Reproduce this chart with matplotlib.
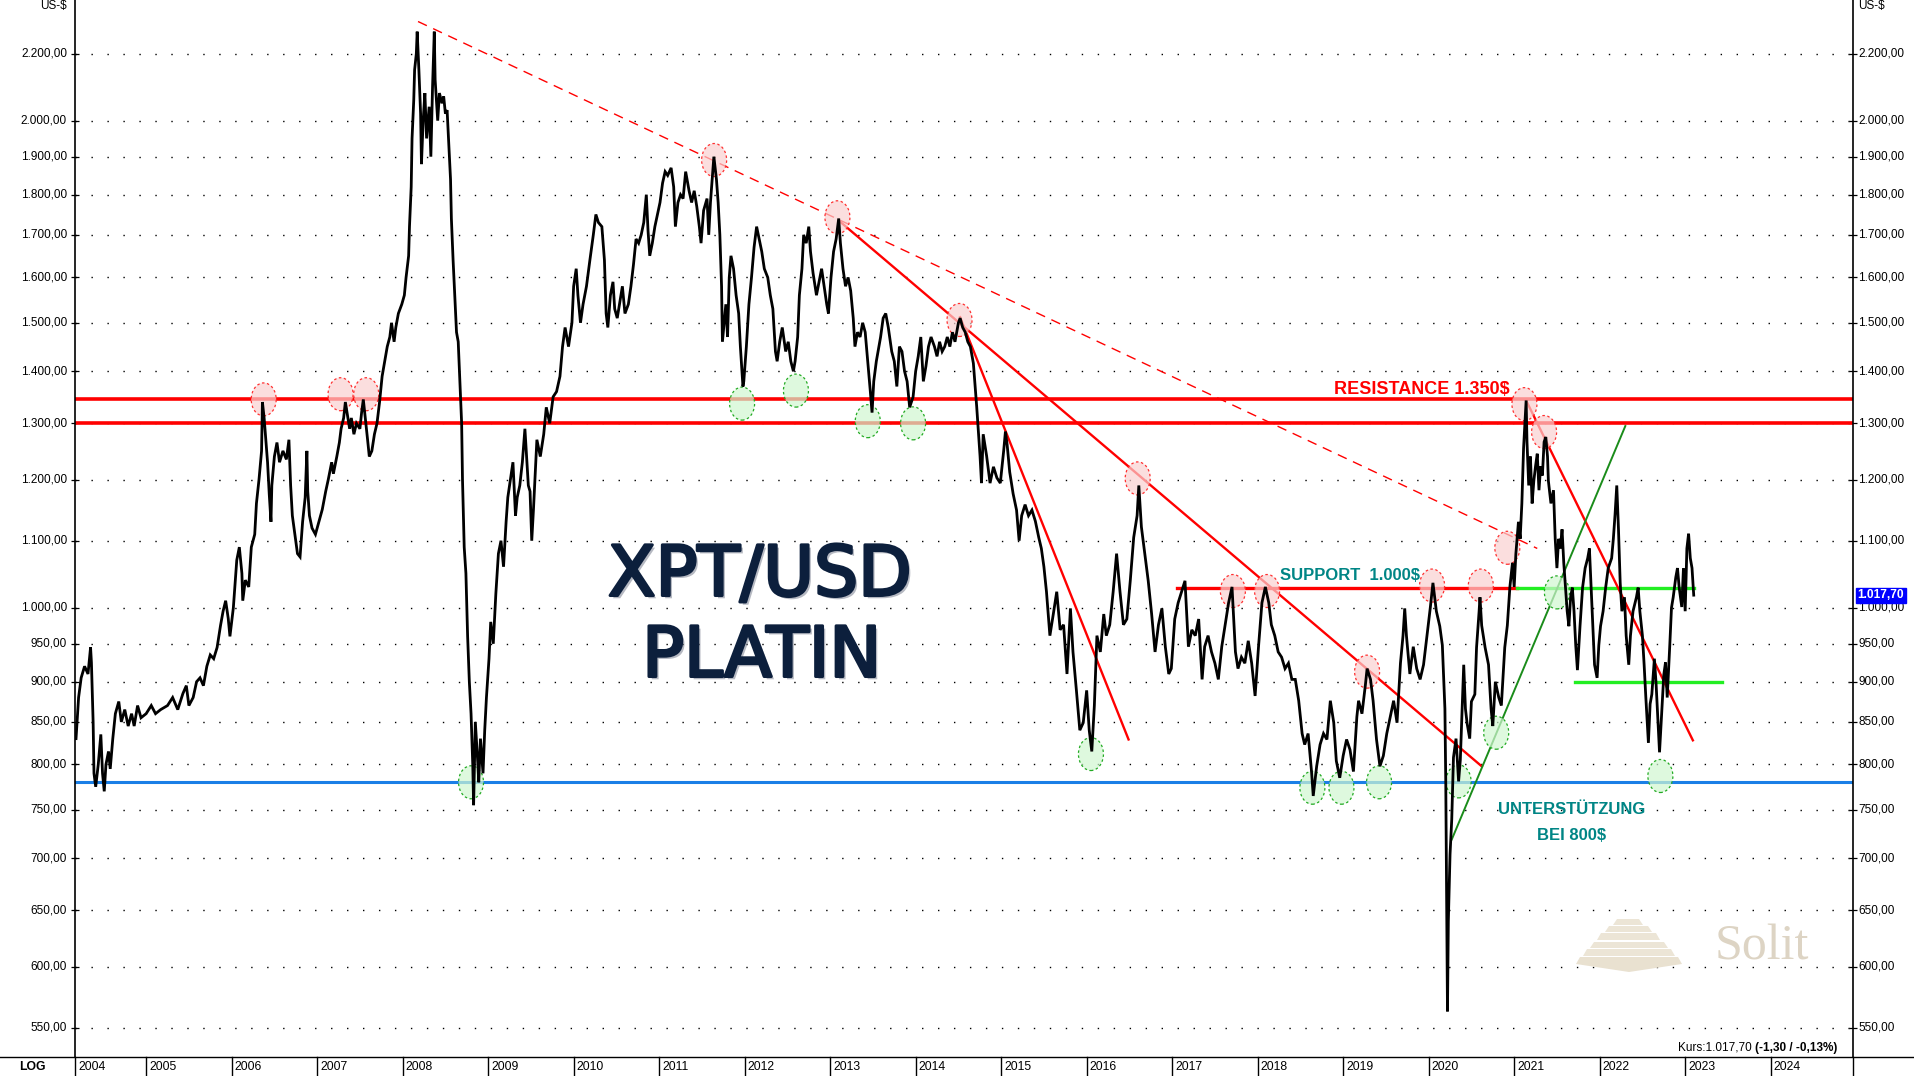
import matplotlib
matplotlib.use("Agg")
import matplotlib.pyplot as plt
import matplotlib.transforms as mtransforms
import matplotlib.patheffects as pe
from matplotlib.patches import Ellipse, Polygon
from matplotlib.lines import Line2D
from matplotlib.ticker import FixedLocator, NullLocator, NullFormatter

plt.rcParams['font.family'] = ['Liberation Sans', 'DejaVu Sans']

# ---------------- data (decimal year, US$ per ounce) ----------------
years_2004_2007 = [
    2004.18, 2004.21, 2004.24, 2004.28, 2004.32, 2004.35, 2004.36, 2004.38, 2004.39, 2004.41,
    2004.44, 2004.47, 2004.49, 2004.51, 2004.53, 2004.56, 2004.58, 2004.61, 2004.64, 2004.68,
    2004.71, 2004.75, 2004.79, 2004.83, 2004.86, 2004.90, 2004.94,
    2005.00, 2005.06, 2005.11, 2005.17, 2005.25, 2005.31, 2005.37, 2005.43, 2005.47, 2005.50,
    2005.55, 2005.59, 2005.63, 2005.67, 2005.71, 2005.75, 2005.79, 2005.83, 2005.87, 2005.90,
    2005.93, 2005.96, 2005.98,
    2006.02, 2006.06, 2006.09, 2006.12, 2006.13, 2006.16, 2006.20, 2006.23, 2006.27, 2006.29,
    2006.32, 2006.35, 2006.36, 2006.38, 2006.40, 2006.42, 2006.44, 2006.46, 2006.47, 2006.50,
    2006.53, 2006.56, 2006.60, 2006.64, 2006.67, 2006.69, 2006.71, 2006.74, 2006.77, 2006.80,
    2006.83, 2006.86, 2006.88, 2006.89, 2006.91, 2006.94, 2006.98,
    2007.02, 2007.06, 2007.10, 2007.13, 2007.17, 2007.19, 2007.23, 2007.26, 2007.28, 2007.31,
    2007.33, 2007.35, 2007.38, 2007.40, 2007.43, 2007.46, 2007.50, 2007.52, 2007.54, 2007.57,
    2007.59, 2007.61, 2007.64, 2007.67, 2007.70, 2007.73, 2007.76, 2007.79, 2007.82, 2007.85,
    2007.87, 2007.90, 2007.92, 2007.95, 2007.99]
prices_2004_2007 = [
    830, 880, 905, 920, 910, 945, 925, 850, 790, 775,
    800, 835, 790, 770, 800, 815, 795, 830, 860, 875,
    850, 865, 845, 860, 845, 870, 855,
    860, 870, 860, 865, 870, 880, 865, 885, 895, 870,
    880, 900, 905, 895, 920, 935, 930, 945, 975, 995,
    1010, 985, 960,
    1000, 1070, 1090, 1050, 1010, 1040, 1030, 1090, 1110, 1160,
    1200, 1250, 1340, 1310, 1270, 1230, 1175, 1130, 1190, 1240,
    1265, 1230, 1250, 1235, 1270, 1190, 1140, 1110, 1080, 1075,
    1130, 1170, 1250, 1180, 1140, 1120, 1110,
    1130, 1150, 1180, 1200, 1230, 1210, 1240, 1265, 1290, 1310,
    1340, 1320, 1290, 1310, 1280, 1300, 1290, 1320, 1345, 1300,
    1270, 1240, 1250, 1280, 1300, 1340, 1390, 1420, 1450, 1470,
    1500, 1460, 1490, 1520, 1540]

years_2008_2009 = [
    2008.02, 2008.04, 2008.07, 2008.08, 2008.10, 2008.11, 2008.13, 2008.14, 2008.16, 2008.17,
    2008.19, 2008.21, 2008.22, 2008.24, 2008.26, 2008.28, 2008.31, 2008.33, 2008.35, 2008.37,
    2008.38, 2008.41, 2008.43, 2008.46, 2008.48, 2008.50, 2008.52, 2008.54, 2008.56, 2008.57,
    2008.59, 2008.61, 2008.63, 2008.65, 2008.67, 2008.69, 2008.70, 2008.72, 2008.74, 2008.76,
    2008.78, 2008.80, 2008.82, 2008.83, 2008.85, 2008.88, 2008.89, 2008.91, 2008.94, 2008.96,
    2008.98,
    2009.01, 2009.03, 2009.06, 2009.09, 2009.12, 2009.15, 2009.18, 2009.21, 2009.23, 2009.26,
    2009.29, 2009.32, 2009.34, 2009.37, 2009.40, 2009.43, 2009.45, 2009.47, 2009.49, 2009.51,
    2009.53, 2009.57, 2009.61, 2009.65, 2009.68, 2009.72, 2009.76, 2009.80, 2009.84, 2009.87,
    2009.90, 2009.94, 2009.98]
prices_2008_2009 = [
    1560, 1600, 1650, 1720, 1820, 1950, 2060, 2150, 2200, 2270,
    2150, 2020, 1880, 2000, 2080, 1950, 2040, 1900, 2100, 2270,
    2120, 2000, 2080, 2050, 2070, 2020, 2030, 1930, 1840, 1740,
    1640, 1560, 1480, 1460, 1380, 1300, 1200, 1090, 1050, 960,
    900, 860, 800, 755, 850, 800, 780, 830, 790, 840,
    880,
    930, 980, 950, 1020, 1080, 1100, 1060, 1130, 1170, 1200,
    1230, 1140, 1170, 1190, 1230, 1290, 1240, 1190, 1180, 1100,
    1150, 1270, 1240, 1280, 1330, 1300, 1350, 1360, 1390, 1450,
    1490, 1450, 1500]

years_2010_2014 = [
    2010.00, 2010.03, 2010.05, 2010.08, 2010.11, 2010.15, 2010.19, 2010.23, 2010.26, 2010.29,
    2010.33, 2010.36, 2010.38, 2010.40, 2010.43, 2010.46, 2010.48, 2010.51, 2010.54, 2010.57,
    2010.60, 2010.64, 2010.67, 2010.70, 2010.73, 2010.76, 2010.79, 2010.82, 2010.85, 2010.87,
    2010.89, 2010.92, 2010.95, 2010.98,
    2011.01, 2011.04, 2011.07, 2011.10, 2011.14, 2011.17, 2011.19, 2011.22, 2011.25, 2011.28,
    2011.31, 2011.35, 2011.38, 2011.41, 2011.44, 2011.47, 2011.49, 2011.52, 2011.56, 2011.58,
    2011.60, 2011.63, 2011.64, 2011.67, 2011.69, 2011.71, 2011.73, 2011.74, 2011.76, 2011.78,
    2011.80, 2011.82, 2011.84, 2011.87, 2011.90, 2011.93, 2011.95, 2011.98, 2011.99,
    2012.02, 2012.05, 2012.08, 2012.11, 2012.14, 2012.17, 2012.20, 2012.23, 2012.27, 2012.30,
    2012.33, 2012.36, 2012.38, 2012.41, 2012.44, 2012.48, 2012.51, 2012.54, 2012.57, 2012.59,
    2012.62, 2012.64, 2012.67, 2012.69, 2012.72, 2012.75, 2012.77, 2012.80, 2012.84, 2012.87,
    2012.90, 2012.93, 2012.96, 2012.98,
    2013.01, 2013.04, 2013.07, 2013.10, 2013.12, 2013.15, 2013.18, 2013.21, 2013.24, 2013.27,
    2013.29, 2013.32, 2013.35, 2013.38, 2013.41, 2013.44, 2013.47, 2013.49, 2013.51, 2013.54,
    2013.56, 2013.59, 2013.62, 2013.65, 2013.68, 2013.72, 2013.75, 2013.78, 2013.81, 2013.84,
    2013.87, 2013.90, 2013.93, 2013.97,
    2014.00, 2014.03, 2014.06, 2014.09, 2014.12, 2014.15, 2014.18, 2014.22, 2014.25, 2014.28,
    2014.31, 2014.34, 2014.37, 2014.40, 2014.43, 2014.46, 2014.50, 2014.52, 2014.55, 2014.58,
    2014.61, 2014.64, 2014.675, 2014.714, 2014.753, 2014.77, 2014.79, 2014.83, 2014.87, 2014.91,
    2014.95, 2014.99]
prices_2010_2014 = [
    1580, 1620, 1560, 1500, 1540, 1580, 1640, 1700, 1750, 1730,
    1720, 1640, 1520, 1490, 1560, 1590, 1530, 1510, 1545, 1580,
    1520, 1540, 1580, 1630, 1690, 1680, 1700, 1730, 1800, 1710,
    1650, 1680, 1720, 1750,
    1780, 1830, 1860, 1850, 1870, 1820, 1720, 1780, 1800, 1790,
    1860, 1810, 1780, 1810, 1770, 1720, 1680, 1760, 1790, 1700,
    1780, 1870, 1900, 1840, 1780, 1700, 1580, 1460, 1500, 1540,
    1470, 1600, 1650, 1620, 1560, 1520, 1450, 1370, 1380,
    1450, 1540, 1600, 1670, 1720, 1690, 1660, 1620, 1600, 1560,
    1530, 1440, 1420, 1460, 1490, 1440, 1460, 1420, 1400, 1420,
    1470, 1560, 1620, 1700, 1680, 1720, 1660, 1610, 1560, 1590,
    1620, 1580, 1540, 1520,
    1600, 1660, 1690, 1740, 1680, 1620, 1580, 1600, 1570, 1510,
    1450, 1480, 1470, 1500, 1480, 1420, 1360, 1320, 1380, 1420,
    1440, 1470, 1510, 1520, 1490, 1440, 1420, 1370, 1450, 1440,
    1400, 1380, 1330, 1350,
    1400, 1430, 1470, 1380, 1410, 1450, 1470, 1450, 1430, 1460,
    1440, 1450, 1470, 1450, 1480, 1460, 1500, 1510, 1490, 1480,
    1460, 1450, 1416, 1331, 1241, 1194, 1280, 1241, 1194, 1222,
    1203, 1194]

years_2015_2019 = [
    2015.03, 2015.05, 2015.07, 2015.10, 2015.14, 2015.18, 2015.21, 2015.24, 2015.28, 2015.32,
    2015.36, 2015.40, 2015.44, 2015.47, 2015.50, 2015.53, 2015.57, 2015.61, 2015.65, 2015.69,
    2015.73, 2015.77, 2015.81, 2015.84, 2015.88, 2015.92, 2015.96,
    2016.00, 2016.03, 2016.06, 2016.09, 2016.12, 2016.16, 2016.20, 2016.23, 2016.27, 2016.31,
    2016.35, 2016.39, 2016.43, 2016.47, 2016.51, 2016.55, 2016.59, 2016.61, 2016.64, 2016.68,
    2016.72, 2016.76, 2016.80, 2016.84, 2016.88, 2016.92, 2016.96, 2016.99,
    2017.03, 2017.07, 2017.11, 2017.15, 2017.19, 2017.23, 2017.27, 2017.31, 2017.35, 2017.38,
    2017.42, 2017.46, 2017.50, 2017.54, 2017.58, 2017.62, 2017.66, 2017.70, 2017.74, 2017.77,
    2017.81, 2017.85, 2017.89, 2017.93, 2017.97,
    2018.01, 2018.05, 2018.09, 2018.13, 2018.16, 2018.20, 2018.24, 2018.28, 2018.32, 2018.36,
    2018.40, 2018.44, 2018.48, 2018.52, 2018.55, 2018.59, 2018.63, 2018.65, 2018.69, 2018.73,
    2018.77, 2018.81, 2018.85, 2018.89, 2018.92, 2018.96,
    2019.00, 2019.04, 2019.08, 2019.12, 2019.16, 2019.18, 2019.22, 2019.26, 2019.28, 2019.32,
    2019.35, 2019.39, 2019.43, 2019.47, 2019.51, 2019.55, 2019.59, 2019.63, 2019.67, 2019.70,
    2019.72, 2019.74, 2019.78, 2019.82, 2019.86, 2019.90, 2019.94, 2019.98]
prices_2015_2019 = [
    1251, 1285, 1261, 1213, 1176, 1149, 1100, 1140, 1158, 1140,
    1149, 1131, 1105, 1088, 1060, 1023, 961, 991, 1023, 969,
    976, 910, 999, 939, 889, 840, 849,
    889, 840, 815, 870, 961, 939, 991, 961, 976, 1023,
    1080, 1023, 976, 984, 1039, 1105, 1140, 1190, 1122, 1080,
    1039, 991, 939, 976, 999, 946, 910, 917,
    984, 1007, 1023, 1039, 946, 969, 961, 984, 903, 946,
    961, 939, 924, 903, 946, 976, 1007, 1030, 939, 917,
    932, 924, 954, 924, 882,
    946, 1007, 1030, 1007, 976, 961, 939, 932, 917, 924,
    903, 903, 876, 836, 823, 836, 792, 765, 798, 823,
    836, 829, 876, 849, 804, 785,
    810, 829, 817, 792, 856, 876, 860, 896, 917, 903,
    876, 829, 798, 810, 836, 856, 876, 849, 924, 961,
    999, 961, 910, 946, 917, 903, 922, 961]

years_2020_2023 = [
    2020.02, 2020.05, 2020.09, 2020.13, 2020.16, 2020.19, 2020.20, 2020.22, 2020.23, 2020.25,
    2020.27, 2020.29, 2020.32, 2020.35, 2020.37, 2020.41, 2020.43, 2020.45, 2020.48, 2020.50,
    2020.54, 2020.56, 2020.59, 2020.60, 2020.62, 2020.66, 2020.70, 2020.73, 2020.75, 2020.78,
    2020.82, 2020.85, 2020.89, 2020.92, 2020.95, 2020.98,
    2021.00, 2021.02, 2021.05, 2021.07, 2021.09, 2021.11, 2021.13, 2021.14, 2021.15, 2021.17,
    2021.19, 2021.21, 2021.23, 2021.25, 2021.27, 2021.29, 2021.31, 2021.33, 2021.35, 2021.37,
    2021.39, 2021.40, 2021.43, 2021.46, 2021.48, 2021.50, 2021.52, 2021.54, 2021.56, 2021.58,
    2021.60, 2021.62, 2021.64, 2021.66, 2021.68, 2021.70, 2021.72, 2021.74, 2021.77, 2021.80,
    2021.83, 2021.86, 2021.88, 2021.90, 2021.92, 2021.94, 2021.97, 2021.99,
    2022.01, 2022.04, 2022.07, 2022.10, 2022.14, 2022.16, 2022.18, 2022.20, 2022.22, 2022.24,
    2022.26, 2022.29, 2022.31, 2022.34, 2022.36, 2022.39, 2022.43, 2022.45, 2022.47, 2022.50,
    2022.52, 2022.54, 2022.57, 2022.59, 2022.61, 2022.64, 2022.66, 2022.68, 2022.70, 2022.72,
    2022.75, 2022.77, 2022.79, 2022.82, 2022.84, 2022.86, 2022.89, 2022.91, 2022.93, 2022.96,
    2022.98, 2023.00, 2023.02, 2023.04, 2023.06, 2023.08, 2023.10]
prices_2020_2023 = [
    1001, 1036, 995, 974, 948, 866, 780, 563, 640, 704,
    740, 808, 830, 781, 805, 922, 866, 848, 830, 875,
    884, 945, 995, 1015, 975, 945, 922, 866, 845, 900,
    880, 870, 945, 975, 1030, 1066,
    1030, 1080, 1130, 1103, 1160, 1255, 1311, 1343, 1266, 1190,
    1240, 1160, 1198, 1223, 1245, 1182, 1223, 1207, 1266, 1275,
    1240, 1198, 1160, 1182, 1103, 1058, 1103, 1088, 1118, 1066,
    1029, 995, 974, 1015, 1029, 995, 948, 915, 974, 1029,
    1058, 1073, 1088, 1029, 974, 922, 905, 948,
    974, 995, 1029, 1058, 1073, 1103, 1142, 1190, 1118, 1036,
    995, 1015, 961, 922, 961, 995, 1015, 1029, 995, 961,
    922, 880, 825, 872, 884, 930, 897, 855, 814, 850,
    909, 925, 880, 948, 1000, 1015, 1044, 1058, 1029, 1001,
    1058, 995, 1088, 1111, 1073, 1058, 1018]

# horizontal levels
resistance_levels = [1345, 1300]
support_level_blue = 780
support_1000 = 1029
support_900 = 900

# trend lines: (year0, price0, year1, price1)
dashed_trend = (2008.18, 2303, 2021.27, 1088)
red_trends = [(2013.10, 1735, 2020.62, 798),
              (2014.52, 1512, 2016.49, 829),
              (2021.14, 1343, 2023.09, 828)]
green_trend = (2020.27, 719, 2022.30, 1295)

# marked highs / lows
red_marks_x = [2006.375, 2007.274, 2007.574, 2011.643, 2013.085, 2014.513, 2016.597, 2017.71,
               2018.11, 2019.28, 2020.04, 2020.61, 2020.92, 2021.12, 2021.35]
red_marks_y = [1345, 1355, 1355, 1891, 1743, 1506, 1202, 1024, 1024, 913, 1032, 1032, 1089,
               1336, 1284]
green_marks_x = [2008.80, 2011.97, 2012.60, 2013.44, 2013.97, 2016.05, 2018.64, 2018.98,
                 2019.42, 2020.35, 2020.79, 2021.50, 2022.71]
green_marks_y = [780, 1337, 1362, 1304, 1300, 812, 774, 774, 780, 781, 837, 1022, 787]

ytick_values = [550, 600, 650, 700, 750, 800, 850, 900, 950, 1000, 1100, 1200, 1300, 1400,
                1500, 1600, 1700, 1800, 1900, 2000, 2200]
year_labels = list(range(2005, 2025))
last_price = 1017.70

# ---------------- figure ----------------
W, H = 1914, 1076
fig = plt.figure(figsize=(W / 100, H / 100), dpi=100)
fig.patch.set_facecolor('white')
ax = fig.add_axes([75 / W, 19 / H, 1777.5 / W, 1057 / H])
ax.set_yscale('log')
x0, x1 = 2004.168, 2024.957
ax.set_xlim(x0, x1)
ax.set_ylim(527.6, 2374.6)
ax.set_xticks([])
ax.yaxis.set_major_locator(FixedLocator(ytick_values))
ax.yaxis.set_minor_locator(NullLocator())
ax.yaxis.set_major_formatter(NullFormatter())
ax.tick_params(axis='y', which='major', left=True, right=True, direction='inout',
               length=6, width=0.9, color='black')
for s in ['top', 'bottom']:
    ax.spines[s].set_visible(False)
for s in ['left', 'right']:
    ax.spines[s].set_linewidth(1.2)


def de_fmt(v):
    s = f"{v:,.2f}"
    return s.replace(',', 'X').replace('.', ',').replace('X', '.')


for v in ytick_values:
    ax.axhline(v, color='black', lw=1.0, ls=(0, (1, 10.5)), zorder=1)
    ax.text(-8 / 1777.5, v, de_fmt(v), transform=ax.get_yaxis_transform(),
            ha='right', va='center', fontsize=8.5, color='black')
    ax.text(1 + 6 / 1777.5, v, de_fmt(v), transform=ax.get_yaxis_transform(),
            ha='left', va='center', fontsize=8.5, color='black')

fig.text(67 / W, 1 - 6 / H, 'US-$', ha='right', va='center', fontsize=8.5)
fig.text(1858 / W, 1 - 6 / H, 'US-$', ha='left', va='center', fontsize=8.5)

# horizontal lines
for lv in resistance_levels:
    ax.axhline(lv, color='#ff0000', lw=2.6, zorder=2)
ax.axhline(support_level_blue, color='#1a7fe6', lw=2.2, zorder=2)
ax.plot([2017.06, 2021.03], [support_1000, support_1000], color='#ff0000', lw=2.4, zorder=2)
ax.plot([2021.03, 2023.10], [support_1000, support_1000], color='#22ee22', lw=2.4, zorder=2)
ax.plot([2021.71, 2023.43], [support_900, support_900], color='#22ee22', lw=2.4, zorder=2)

# trend lines
ax.plot([dashed_trend[0], dashed_trend[2]], [dashed_trend[1], dashed_trend[3]],
        color='#ff0000', lw=1.0, ls=(0, (7, 5)), zorder=2)
for tx0, ty0, tx1, ty1 in red_trends:
    ax.plot([tx0, tx1], [ty0, ty1], color='#ff0000', lw=1.7, zorder=2)
ax.plot([green_trend[0], green_trend[2]], [green_trend[1], green_trend[3]],
        color='#1a8c1a', lw=1.4, zorder=2)


def mark(x, y, fc, ec):
    tr = fig.dpi_scale_trans + mtransforms.ScaledTranslation(x, y, ax.transData)
    e = Ellipse((0, 0), 0.25, 0.33, transform=tr, facecolor=fc, edgecolor=ec,
                lw=0.9, ls=(0, (2, 2)), zorder=2.5)
    ax.add_artist(e)


for x, y in zip(red_marks_x, red_marks_y):
    mark(x, y, (0.98, 0.82, 0.82, 0.7), '#ff3030')
for x, y in zip(green_marks_x, green_marks_y):
    mark(x, y, (0.82, 0.97, 0.82, 0.7), '#22aa22')

# price series
xs = years_2004_2007 + years_2008_2009 + years_2010_2014 + years_2015_2019 + years_2020_2023
ps = prices_2004_2007 + prices_2008_2009 + prices_2010_2014 + prices_2015_2019 + prices_2020_2023
ax.plot(xs, ps, color='black', lw=2.0, zorder=3, solid_joinstyle='miter')

# texts
title_fx = [pe.withSimplePatchShadow(offset=(2, -2), shadow_rgbFace='#7a8090', alpha=0.55),
            pe.Stroke(linewidth=2.2, foreground='#0c1f3c'), pe.Normal()]
fig.text(760 / W, 1 - 576 / H, 'XPT/USD', ha='center', va='center', fontsize=50,
         family='DejaVu Sans', color='#0c1f3c', path_effects=title_fx, zorder=6)
fig.text(762 / W, 1 - 657 / H, 'PLATIN', ha='center', va='center', fontsize=50,
         family='DejaVu Sans', color='#0c1f3c', path_effects=title_fx, zorder=6)

fig.text(1422 / W, 1 - 389 / H, 'RESISTANCE 1.350$', ha='center', va='center',
         fontsize=13, fontweight='bold', color='#ff0000')
fig.text(1350 / W, 1 - 576 / H, 'SUPPORT  1.000$', ha='center', va='center',
         fontsize=12, fontweight='bold', color='#008585')
fig.text(1572 / W, 1 - 810 / H, 'UNTERSTÜTZUNG', ha='center', va='center',
         fontsize=12, fontweight='bold', color='#008585')
fig.text(1572 / W, 1 - 835 / H, 'BEI 800$', ha='center', va='center',
         fontsize=12, fontweight='bold', color='#008585')

# current price box
ax.text(1 + 5 / 1777.5, last_price, de_fmt(last_price), transform=ax.get_yaxis_transform(),
        ha='left', va='center', fontsize=8.6, fontweight='bold', color='white', zorder=10,
        bbox=dict(boxstyle='square,pad=0.12', facecolor='#0000ff', edgecolor='#0000ff'))

# watermark
def fpt(x, y):
    return (x / W, 1 - y / H)

layers = [(1613, 1643, 919, 925), (1605, 1652, 926, 932), (1597, 1660, 933, 940),
          (1590, 1668, 942, 948), (1583, 1675, 949, 956)]
for i, (lx0, lx1, ly0, ly1) in enumerate(layers):
    d = 4
    poly = [fpt(lx0 + d, ly0), fpt(lx1 - d, ly0), fpt(lx1, ly1), fpt(lx0, ly1)]
    fig.add_artist(Polygon(poly, closed=True, transform=fig.transFigure,
                           facecolor='#ece5d6', edgecolor='none', zorder=1))
base = [fpt(1580, 957), fpt(1678, 957), fpt(1682, 964), fpt(1629, 972), fpt(1576, 964)]
fig.add_artist(Polygon(base, closed=True, transform=fig.transFigure,
                       facecolor='#e9e1d0', edgecolor='none', zorder=1))
fig.text(1715 / W, 1 - 960 / H, 'Solit', ha='left', va='baseline', fontsize=36,
         family='Liberation Serif', color='#ddd4c4', zorder=1)

# bottom year strip
fig.add_artist(Line2D([0, 1], [19 / H, 19 / H], transform=fig.transFigure, color='black', lw=1.0))
blend = mtransforms.blended_transform_factory(ax.transData, fig.transFigure)
for yx in [x0] + year_labels + [x1]:
    fig.add_artist(Line2D([yx, yx], [0, 19 / H], transform=blend, color='black', lw=1.0))
for yr in [2004] + year_labels:
    xpos = x0 if yr == 2004 else yr
    t = fig.text(0, 1 - 1067 / H, str(yr), ha='left', va='center', fontsize=8.8,
                 transform=blend + mtransforms.ScaledTranslation(3 / 100, 0, fig.dpi_scale_trans))
    t.set_x(xpos)
fig.text(32 / W, 1 - 1067 / H, 'LOG', ha='center', va='center', fontsize=8.8, fontweight='bold')

# Kurs line
renderer = fig.canvas.get_renderer()
tb = fig.text(1837 / W, 1 - 1048 / H, '(-1,30 / -0,13%)', ha='right', va='center',
              fontsize=8.5, fontweight='bold')
bb = tb.get_window_extent(renderer)
fig.text((bb.x0 - 3) / W, 1 - 1048 / H, 'Kurs:1.017,70', ha='right', va='center', fontsize=8.5)

fig.savefig('out.png', dpi=100, facecolor='white')
